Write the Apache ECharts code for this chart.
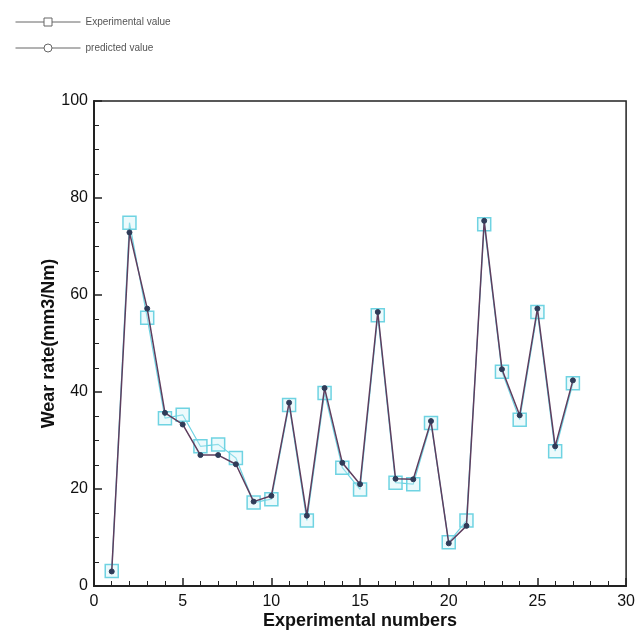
<!DOCTYPE html>
<html>
<head>
<meta charset="utf-8">
<script src="https://cdn.jsdelivr.net/npm/echarts@6/dist/echarts.min.js"></script>
<style>
  html, body { margin: 0; padding: 0; background: #fff; }
  #main { width: 638px; height: 635px; }
</style>
</head>
<body>
<div id="main"></div>
<script>
// experiment numbers 1..27
var expNumbers = [1,2,3,4,5,6,7,8,9,10,11,12,13,14,15,16,17,18,19,20,21,22,23,24,25,26,27];
var experimentalValue = [3.1,74.9,55.3,34.6,35.3,28.8,29.2,26.4,17.2,17.9,37.3,13.5,39.8,24.4,19.9,55.8,21.3,21.0,33.6,9.0,13.5,74.6,44.2,34.3,56.5,27.8,41.8];
var predictedValue    = [3.0,72.9,57.2,35.7,33.3,27.0,27.0,25.1,17.4,18.6,37.8,14.5,40.8,25.4,21.0,56.5,22.1,22.0,34.0,8.8,12.4,75.3,44.7,35.2,57.2,28.8,42.4];
var seriesNames = ['Experimental value', 'predicted value'];

function pairs(xs, ys) {
  var out = [];
  for (var i = 0; i < xs.length; i++) out.push([xs[i], ys[i]]);
  return out;
}

var chart = echarts.init(document.getElementById('main'));
var option = {
  animation: false,
  textStyle: { fontFamily: 'Liberation Sans' },
  legend: {
    orient: 'vertical',
    left: 10,
    top: 12,
    itemWidth: 65,
    itemHeight: 10,
    itemGap: 16,
    textStyle: { fontSize: 10, color: '#555', fontFamily: 'Liberation Sans' },
    data: [
      { name: seriesNames[0], itemStyle: { color: '#fff', borderColor: '#666', borderWidth: 1 }, lineStyle: { color: '#666', width: 1 } },
      { name: seriesNames[1], itemStyle: { color: '#fff', borderColor: '#666', borderWidth: 1 }, lineStyle: { color: '#666', width: 1 } }
    ]
  },
  grid: {
    left: 94, right: 9, top: 101, bottom: 47,
    show: true, borderColor: '#222', borderWidth: 1.5
  },
  xAxis: {
    type: 'value',
    min: 0, max: 30, interval: 5,
    name: 'Experimental numbers',
    nameLocation: 'middle',
    nameGap: 26,
    nameMoveOverlap: false,
    nameTextStyle: { fontSize: 18, fontWeight: 'bold', color: '#111', fontFamily: 'Liberation Sans' },
    axisLine: { show: true, lineStyle: { color: '#222', width: 2 } },
    axisTick: { show: true, inside: true, length: 8, lineStyle: { color: '#222', width: 1.5 } },
    minorTick: { show: true, splitNumber: 5, length: 5, lineStyle: { color: '#222', width: 1 } },
    axisLabel: { fontSize: 16, color: '#111', margin: 8 },
    splitLine: { show: false }
  },
  yAxis: {
    type: 'value',
    min: 0, max: 100, interval: 20,
    name: 'Wear rate(mm3/Nm)',
    nameLocation: 'middle',
    nameGap: 36,
    nameMoveOverlap: false,
    nameTextStyle: { fontSize: 18, fontWeight: 'bold', color: '#111', fontFamily: 'Liberation Sans' },
    axisLine: { show: true, lineStyle: { color: '#222', width: 2 } },
    axisTick: { show: true, inside: true, length: 8, lineStyle: { color: '#222', width: 1.5 } },
    minorTick: { show: true, splitNumber: 4, length: 5, lineStyle: { color: '#222', width: 1 } },
    axisLabel: { fontSize: 16, color: '#111', margin: 6 },
    splitLine: { show: false }
  },
  series: [
    {
      name: seriesNames[0],
      type: 'line',
      data: pairs(expNumbers, experimentalValue),
      symbol: 'rect',
      symbolSize: 13,
      lineStyle: { color: '#6fd3e2', width: 1.2 },
      itemStyle: { color: 'rgba(200,240,245,0.35)', borderColor: '#6fd3e2', borderWidth: 1.5 },
      z: 2
    },
    {
      name: seriesNames[1],
      type: 'line',
      data: pairs(expNumbers, predictedValue),
      symbol: 'circle',
      symbolSize: 5,
      lineStyle: { color: '#5e3e5e', width: 1.5 },
      itemStyle: { color: '#2f3b58', borderColor: '#2f3b58', borderWidth: 1 },
      z: 3
    }
  ]
};
chart.setOption(option);
</script>
</body>
</html>
